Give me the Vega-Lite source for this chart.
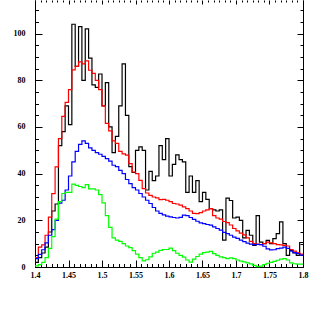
{
  "$schema": "https://vega.github.io/schema/vega-lite/v6.json",
  "width": 268,
  "height": 267,
  "autosize": {"type": "none"},
  "padding": {"left": 35, "top": 0, "right": 19, "bottom": 47},
  "background": "white",
  "config": {
    "view": {"stroke": null},
    "axis": {
      "labelFont": "Liberation Serif",
      "labelFontWeight": "bold",
      "labelFontSize": 8,
      "labelColor": "#000",
      "tickColor": "#000",
      "domainColor": "#000",
      "grid": false,
      "title": null
    }
  },
  "data": {
    "values": [
      {"x": 1.4, "k": 2, "r": 4, "b": 3.6, "g": 0.5},
      {"x": 1.405, "k": 4, "r": 8.5, "b": 5.4, "g": 1},
      {"x": 1.41, "k": 6, "r": 9.5, "b": 7.4, "g": 2},
      {"x": 1.415, "k": 8.5, "r": 13.6, "b": 10.3, "g": 4},
      {"x": 1.42, "k": 15, "r": 21.4, "b": 13.6, "g": 8},
      {"x": 1.425, "k": 24, "r": 31.4, "b": 16, "g": 13},
      {"x": 1.43, "k": 27, "r": 42.9, "b": 20, "g": 20.5},
      {"x": 1.435, "k": 52, "r": 55, "b": 27.4, "g": 28},
      {"x": 1.44, "k": 58, "r": 64.5, "b": 28.6, "g": 31.5},
      {"x": 1.445, "k": 69, "r": 70.5, "b": 33, "g": 32},
      {"x": 1.45, "k": 61, "r": 76, "b": 39, "g": 32},
      {"x": 1.455, "k": 104, "r": 84.5, "b": 45, "g": 35.5},
      {"x": 1.46, "k": 86, "r": 86, "b": 49.5, "g": 35},
      {"x": 1.465, "k": 103, "r": 87.9, "b": 52.5, "g": 34.5},
      {"x": 1.47, "k": 80, "r": 87, "b": 54, "g": 34},
      {"x": 1.475, "k": 102, "r": 88.3, "b": 53, "g": 35.3},
      {"x": 1.48, "k": 89.5, "r": 84.3, "b": 51, "g": 33.5},
      {"x": 1.485, "k": 78, "r": 83, "b": 50, "g": 33.5},
      {"x": 1.49, "k": 77, "r": 80, "b": 49, "g": 33},
      {"x": 1.495, "k": 82.7, "r": 76, "b": 48.3, "g": 31},
      {"x": 1.5, "k": 69, "r": 69, "b": 47.4, "g": 27.5},
      {"x": 1.505, "k": 79, "r": 61.5, "b": 46.4, "g": 22},
      {"x": 1.51, "k": 60, "r": 58.3, "b": 45.4, "g": 17},
      {"x": 1.515, "k": 49, "r": 54, "b": 43.6, "g": 12.5},
      {"x": 1.52, "k": 56, "r": 53, "b": 43, "g": 11.5},
      {"x": 1.525, "k": 69, "r": 49.5, "b": 41.4, "g": 11},
      {"x": 1.53, "k": 87, "r": 48.5, "b": 40, "g": 10},
      {"x": 1.535, "k": 65, "r": 47.9, "b": 37.5, "g": 9},
      {"x": 1.54, "k": 43, "r": 44.3, "b": 35.7, "g": 8.3},
      {"x": 1.545, "k": 40.5, "r": 40.7, "b": 34, "g": 7},
      {"x": 1.55, "k": 50, "r": 40, "b": 33, "g": 5.5},
      {"x": 1.555, "k": 51.5, "r": 37.1, "b": 31.5, "g": 4},
      {"x": 1.56, "k": 50, "r": 33.6, "b": 30, "g": 2.6},
      {"x": 1.565, "k": 33, "r": 31.7, "b": 28.6, "g": 3.1},
      {"x": 1.57, "k": 41, "r": 30.7, "b": 27.2, "g": 4.3},
      {"x": 1.575, "k": 37, "r": 30, "b": 25.5, "g": 5.9},
      {"x": 1.58, "k": 39, "r": 29.6, "b": 24, "g": 6.4},
      {"x": 1.585, "k": 52, "r": 28.9, "b": 23, "g": 7.1},
      {"x": 1.59, "k": 46, "r": 29, "b": 22.3, "g": 7.5},
      {"x": 1.595, "k": 55, "r": 28.6, "b": 21.8, "g": 7.5},
      {"x": 1.6, "k": 39, "r": 28, "b": 21.5, "g": 8.1},
      {"x": 1.605, "k": 44, "r": 27.2, "b": 21.2, "g": 7},
      {"x": 1.61, "k": 48, "r": 27, "b": 21, "g": 5.9},
      {"x": 1.615, "k": 46, "r": 26.5, "b": 21.3, "g": 5},
      {"x": 1.62, "k": 45, "r": 25.8, "b": 22.2, "g": 4.2},
      {"x": 1.625, "k": 32, "r": 25, "b": 22, "g": 3},
      {"x": 1.63, "k": 39, "r": 24, "b": 21.2, "g": 2.1},
      {"x": 1.635, "k": 32, "r": 23, "b": 20.4, "g": 3.4},
      {"x": 1.64, "k": 37, "r": 22.9, "b": 19.6, "g": 4.5},
      {"x": 1.645, "k": 28, "r": 23.3, "b": 18.9, "g": 5.5},
      {"x": 1.65, "k": 32, "r": 24, "b": 18.6, "g": 6.2},
      {"x": 1.655, "k": 29, "r": 24.5, "b": 18.2, "g": 6.4},
      {"x": 1.66, "k": 25, "r": 25, "b": 17.9, "g": 6.7},
      {"x": 1.665, "k": 24.5, "r": 22, "b": 17.2, "g": 5.7},
      {"x": 1.67, "k": 24, "r": 21, "b": 16.5, "g": 5},
      {"x": 1.675, "k": 24.5, "r": 20.5, "b": 15.8, "g": 4.3},
      {"x": 1.68, "k": 11.5, "r": 19.5, "b": 14.8, "g": 4},
      {"x": 1.685, "k": 29.5, "r": 19, "b": 14.3, "g": 3.6},
      {"x": 1.69, "k": 28.5, "r": 18, "b": 13.6, "g": 3.9},
      {"x": 1.695, "k": 21, "r": 16.5, "b": 12.8, "g": 3.6},
      {"x": 1.7, "k": 21.4, "r": 15.5, "b": 12.3, "g": 3},
      {"x": 1.705, "k": 20, "r": 14.5, "b": 11.5, "g": 2.5},
      {"x": 1.71, "k": 12.5, "r": 13.8, "b": 10.9, "g": 2.2},
      {"x": 1.715, "k": 15.7, "r": 12.5, "b": 10.2, "g": 1.8},
      {"x": 1.72, "k": 13.6, "r": 11, "b": 9.8, "g": 1.3},
      {"x": 1.725, "k": 9.3, "r": 10, "b": 9.6, "g": 0.7},
      {"x": 1.73, "k": 22, "r": 9.8, "b": 9.7, "g": 0.2},
      {"x": 1.735, "k": 10.7, "r": 9.6, "b": 9.6, "g": 0.4},
      {"x": 1.74, "k": 10, "r": 10, "b": 8.9, "g": 1},
      {"x": 1.745, "k": 11.4, "r": 10.7, "b": 7.8, "g": 1.6},
      {"x": 1.75, "k": 10, "r": 10.3, "b": 7.3, "g": 2},
      {"x": 1.755, "k": 12.2, "r": 10, "b": 7.4, "g": 2.4},
      {"x": 1.76, "k": 14.3, "r": 9.6, "b": 7.9, "g": 2.9},
      {"x": 1.765, "k": 19.3, "r": 9.5, "b": 8.1, "g": 3.4},
      {"x": 1.77, "k": 10, "r": 9.3, "b": 8.5, "g": 3.6},
      {"x": 1.775, "k": 5, "r": 9, "b": 8, "g": 3},
      {"x": 1.78, "k": 7.1, "r": 7.5, "b": 6.8, "g": 1.8},
      {"x": 1.785, "k": 6, "r": 6.8, "b": 6.2, "g": 1.4},
      {"x": 1.79, "k": 5, "r": 6.2, "b": 5.7, "g": 1.2},
      {"x": 1.795, "k": 10.5, "r": 5.5, "b": 5.1, "g": 1.2},
      {"x": 1.8, "k": 10.5, "r": 5.5, "b": 5.1, "g": 1.2}
    ]
  },
  "layer": [
    {
      "mark": {"type": "line", "interpolate": "step-after", "color": "#000000", "strokeWidth": 1.2},
      "encoding": {
        "x": {"field": "x", "type": "quantitative", "scale": {"domain": [1.4, 1.8], "nice": false, "zero": false},
          "axis": {"orient": "bottom", "values": [1.4, 1.45, 1.5, 1.55, 1.6, 1.65, 1.7, 1.75, 1.8], "format": ".2~f", "tickSize": -7, "labelPadding": 11, "domain": true, "labelFlush": false}},
        "y": {"field": "k", "type": "quantitative", "scale": {"domain": [0, 114.4], "nice": false, "zero": true},
          "axis": {"orient": "left", "values": [0, 20, 40, 60, 80, 100], "tickSize": -7, "labelPadding": 17, "domain": true}}
      }
    },
    {
      "mark": {"type": "line", "interpolate": "step-after", "color": "#ff0000", "strokeWidth": 1.2},
      "encoding": {
        "x": {"field": "x", "type": "quantitative",
          "axis": {"orient": "bottom", "values": [1.408333, 1.416667, 1.425, 1.433333, 1.441667, 1.458333, 1.466667, 1.475, 1.483333, 1.491667, 1.508333, 1.516667, 1.525, 1.533333, 1.541667, 1.558333, 1.566667, 1.575, 1.583333, 1.591667, 1.608333, 1.616667, 1.625, 1.633333, 1.641667, 1.658333, 1.666667, 1.675, 1.683333, 1.691667, 1.708333, 1.716667, 1.725, 1.733333, 1.741667, 1.758333, 1.766667, 1.775, 1.783333, 1.791667], "tickSize": -3.5, "labels": false, "domain": false}},
        "y": {"field": "r", "type": "quantitative",
          "axis": {"orient": "left", "values": [5, 10, 15, 25, 30, 35, 45, 50, 55, 65, 70, 75, 85, 90, 95, 105, 110], "tickSize": -3.5, "labels": false, "domain": false}}
      }
    },
    {
      "mark": {"type": "line", "interpolate": "step-after", "color": "#0000ff", "strokeWidth": 1.2},
      "encoding": {
        "x": {"field": "x", "type": "quantitative",
          "axis": {"orient": "top", "values": [1.4, 1.45, 1.5, 1.55, 1.6, 1.65, 1.7, 1.75, 1.8], "tickSize": -4, "labels": false, "domain": false}},
        "y": {"field": "b", "type": "quantitative",
          "axis": {"orient": "right", "values": [0, 20, 40, 60, 80, 100], "tickSize": -6, "labels": false, "domain": true}}
      }
    },
    {
      "mark": {"type": "line", "interpolate": "step-after", "color": "#00ff00", "strokeWidth": 1.2},
      "encoding": {
        "x": {"field": "x", "type": "quantitative",
          "axis": {"orient": "top", "values": [1.408333, 1.416667, 1.425, 1.433333, 1.441667, 1.458333, 1.466667, 1.475, 1.483333, 1.491667, 1.508333, 1.516667, 1.525, 1.533333, 1.541667, 1.558333, 1.566667, 1.575, 1.583333, 1.591667, 1.608333, 1.616667, 1.625, 1.633333, 1.641667, 1.658333, 1.666667, 1.675, 1.683333, 1.691667, 1.708333, 1.716667, 1.725, 1.733333, 1.741667, 1.758333, 1.766667, 1.775, 1.783333, 1.791667], "tickSize": -2, "labels": false, "domain": false}},
        "y": {"field": "g", "type": "quantitative",
          "axis": {"orient": "right", "values": [5, 10, 15, 25, 30, 35, 45, 50, 55, 65, 70, 75, 85, 90, 95, 105, 110], "tickSize": -3, "labels": false, "domain": false}}
      }
    }
  ],
  "resolve": {"axis": {"x": "independent", "y": "independent"}}
}
